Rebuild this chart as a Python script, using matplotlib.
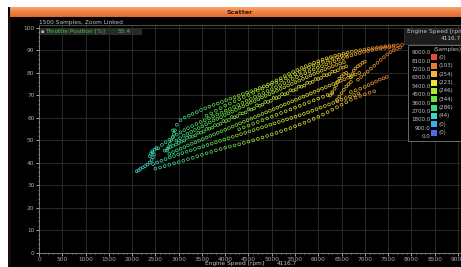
import numpy as np
import matplotlib
matplotlib.use("Agg")
import matplotlib.pyplot as plt
from matplotlib.colors import LinearSegmentedColormap
from matplotlib.patches import Rectangle
from matplotlib.ticker import MultipleLocator

W, H = 461, 267

# ---------------- data (engine speed [rpm], throttle position [%]) ----------------
hook = [(2100, 36.3), (2140, 36.8), (2180, 37.4), (2230, 38.0), (2280, 38.6), (2330, 39.3),
        (2380, 40.2), (2420, 41.3), (2450, 42.5), (2470, 43.8), (2440, 44.6), (2400, 44.0),
        (2380, 43.0), (2430, 45.2), (2480, 46.0), (2520, 46.6)]
spike = [(2750, 45.5), (2780, 47.0), (2810, 48.5), (2840, 50.0), (2870, 51.5), (2900, 53.0), (2920, 54.5)]
top_strand = [(2880, 54.5), (2960, 57.0), (3040, 59.0), (3130, 60.2), (3220, 61.0), (3300, 61.8),
              (3390, 62.6), (3480, 63.5), (3570, 64.3), (3660, 65.0), (3750, 65.8), (3840, 66.4),
              (3930, 67.1), (4020, 67.9), (4110, 68.6), (4200, 69.2), (4290, 69.9), (4380, 70.6),
              (4470, 71.2), (4560, 71.9), (4650, 72.6), (4740, 73.3), (4830, 74.0), (4920, 74.9),
              (5010, 75.8), (5100, 76.7), (5190, 77.6), (5280, 78.6), (5370, 79.5), (5460, 80.4),
              (5550, 81.3), (5640, 82.2), (5730, 83.0), (5820, 83.8), (5910, 84.5), (6000, 85.2),
              (6090, 85.9), (6180, 86.5), (6270, 87.0), (6360, 87.6), (6450, 88.1), (6540, 88.6),
              (6630, 89.0), (6720, 89.4), (6810, 89.8), (6900, 90.1), (6990, 90.4), (7080, 90.7),
              (7170, 91.0), (7260, 91.3), (7350, 91.5), (7440, 91.8), (7530, 92.0), (7620, 92.2),
              (7710, 92.3), (7800, 92.5)]
second_strand = [(2560, 46.5), (2640, 48.0), (2720, 49.2), (2800, 50.3), (2880, 51.5), (2960, 52.6),
                 (3040, 53.6), (3120, 54.6), (3200, 55.5), (3290, 56.4), (3380, 57.3), (3470, 58.2),
                 (3560, 59.0), (3650, 59.8), (3740, 60.7), (3830, 61.5), (3920, 62.3), (4010, 63.2),
                 (4100, 64.0), (4190, 64.9), (4280, 65.8), (4370, 66.7), (4460, 67.6), (4550, 68.4),
                 (4640, 69.3), (4730, 70.2), (4820, 71.1), (4910, 72.0), (5000, 72.8), (5090, 73.7),
                 (5180, 74.6), (5270, 75.5), (5360, 76.4), (5450, 77.3), (5540, 78.2), (5630, 79.0),
                 (5720, 79.9), (5810, 80.7), (5900, 81.5), (5990, 82.3), (6080, 83.0), (6170, 83.8),
                 (6260, 84.5), (6350, 85.2), (6440, 85.9), (6530, 86.6), (6620, 87.2), (6710, 87.8),
                 (6800, 88.4), (6890, 88.9), (6980, 89.4), (7070, 89.8), (7160, 90.2), (7250, 90.6),
                 (7340, 90.9), (7430, 91.2), (7520, 91.4), (7610, 91.6)]
mid_upper = [(3600, 61.0), (3700, 62.0), (3800, 63.2), (3900, 64.3), (4000, 65.5), (4100, 66.4),
             (4200, 67.4), (4300, 68.3), (4400, 69.3), (4500, 70.2), (4600, 71.2), (4700, 72.1),
             (4800, 73.1), (4900, 74.0), (5000, 74.8), (5100, 75.7), (5200, 76.6), (5300, 77.6),
             (5400, 78.5), (5500, 79.5), (5600, 80.5), (5700, 81.5), (5800, 82.4), (5900, 83.3),
             (6000, 84.1), (6100, 84.9), (6200, 85.6), (6300, 86.3), (6400, 87.0), (6500, 87.5),
             (6600, 88.0)]
band_upper = [(2950, 50.0), (3030, 51.0), (3110, 52.1), (3190, 53.0), (3270, 53.8), (3350, 54.7),
              (3430, 55.5), (3510, 56.3), (3590, 57.2), (3670, 58.0), (3750, 58.9), (3830, 59.6),
              (3910, 60.4), (3990, 61.3), (4070, 62.1), (4150, 62.8), (4230, 63.6), (4310, 64.5),
              (4390, 65.2), (4470, 66.0), (4550, 66.8), (4630, 67.5), (4710, 68.3), (4790, 69.1),
              (4870, 69.8), (4950, 70.6), (5030, 71.4), (5110, 72.1), (5190, 72.9), (5270, 73.6),
              (5350, 74.4), (5430, 75.1), (5510, 75.9), (5590, 76.6), (5670, 77.4), (5750, 78.1),
              (5830, 78.9), (5910, 79.6), (5990, 80.3), (6070, 81.0), (6150, 81.7), (6230, 82.3),
              (6310, 83.0), (6390, 83.6), (6470, 84.2), (6550, 84.8)]
band_center = [(2700, 45.5), (2760, 46.3), (2820, 47.0), (2880, 47.6), (2940, 48.2), (3000, 48.9),
               (3060, 49.5), (3120, 50.0), (3180, 51.2), (3240, 51.6), (3300, 51.8), (3360, 52.3),
               (3420, 53.4), (3480, 53.5), (3540, 54.0), (3600, 55.1), (3660, 55.2), (3720, 55.7),
               (3780, 56.8), (3840, 56.9), (3900, 57.4), (3960, 58.6), (4020, 58.6), (4080, 59.1),
               (4140, 60.4), (4200, 60.3), (4260, 60.8), (4320, 62.0), (4380, 62.0), (4440, 62.5),
               (4500, 63.9), (4560, 63.7), (4620, 64.2), (4680, 65.6), (4740, 65.4), (4800, 65.9),
               (4860, 67.1), (4920, 67.1), (4980, 67.6), (5040, 68.9), (5100, 68.8), (5160, 69.3),
               (5220, 70.6), (5280, 70.5), (5340, 71.0), (5400, 72.3), (5460, 72.2), (5520, 72.7),
               (5580, 73.9), (5640, 73.9), (5700, 74.4), (5760, 75.6), (5820, 75.6), (5880, 76.1),
               (5940, 77.3), (6000, 77.3), (6060, 77.8), (6120, 79.0), (6180, 79.0), (6240, 79.5),
               (6300, 80.6), (6360, 80.7), (6420, 81.2), (6480, 82.3), (6540, 82.4), (6600, 82.9)]
band_lower = [(2800, 44.0), (2880, 44.8), (2960, 45.6), (3040, 46.3), (3120, 47.0), (3200, 47.8),
              (3280, 48.5), (3360, 49.2), (3440, 49.9), (3520, 50.6), (3600, 51.3), (3680, 52.0),
              (3760, 52.7), (3840, 53.4), (3920, 54.1), (4000, 54.8), (4080, 55.5), (4160, 56.2),
              (4240, 56.9), (4320, 57.6), (4400, 58.3), (4480, 59.0), (4560, 59.7), (4640, 60.4),
              (4720, 61.1), (4800, 61.8), (4880, 62.5), (4960, 63.2), (5040, 63.9), (5120, 64.6),
              (5200, 65.3), (5280, 66.0), (5360, 66.7), (5440, 67.4), (5520, 68.1), (5600, 68.8),
              (5680, 69.5), (5760, 70.2), (5840, 70.9), (5920, 71.6), (6000, 72.3), (6080, 73.0),
              (6160, 73.7), (6240, 74.4), (6320, 75.1), (6400, 75.8), (6480, 76.5), (6560, 77.2),
              (6640, 77.9), (6720, 78.6), (6800, 79.3), (6880, 80.0)]
low_mid = [(4300, 55.0), (4400, 55.8), (4500, 56.6), (4600, 57.4), (4700, 58.2), (4800, 59.0),
           (4900, 59.8), (5000, 60.6), (5100, 61.4), (5200, 62.2), (5300, 63.0), (5400, 63.8),
           (5500, 64.6), (5600, 65.4), (5700, 66.2), (5800, 67.0), (5900, 67.8), (6000, 68.6),
           (6100, 69.4), (6200, 70.2), (6300, 71.0)]
lower_strand = [(2450, 39.5), (2540, 40.2), (2630, 41.0), (2720, 41.7), (2810, 42.4), (2900, 43.1),
                (2990, 43.8), (3080, 44.4), (3170, 45.0), (3260, 45.6), (3350, 46.2), (3440, 46.8),
                (3530, 47.4), (3620, 48.0), (3710, 48.6), (3800, 49.2), (3890, 49.8), (3980, 50.4),
                (4070, 51.0), (4160, 51.6), (4250, 52.2), (4340, 52.8), (4430, 53.4), (4520, 54.0),
                (4610, 54.6), (4700, 55.2), (4790, 55.8), (4880, 56.4), (4970, 57.0), (5060, 57.6),
                (5150, 58.2), (5240, 58.8), (5330, 59.4), (5420, 60.0), (5510, 60.6), (5600, 61.2),
                (5690, 61.8), (5780, 62.5), (5870, 63.2), (5960, 63.9), (6050, 64.6), (6140, 65.3),
                (6230, 66.0), (6320, 66.7), (6410, 67.4), (6500, 68.1), (6590, 68.8), (6680, 69.5),
                (6770, 70.2), (6860, 70.9)]
lowest_strand = [(2500, 37.5), (2600, 38.0), (2700, 38.6), (2800, 39.2), (2900, 39.8), (3000, 40.4),
                 (3100, 41.0), (3200, 41.7), (3300, 42.3), (3400, 43.0), (3500, 43.6), (3600, 44.3),
                 (3700, 44.9), (3800, 45.6), (3900, 46.2), (4000, 46.8), (4100, 47.3), (4200, 47.8),
                 (4300, 48.3), (4400, 48.9), (4500, 49.5), (4600, 50.1), (4700, 50.7), (4800, 51.3),
                 (4900, 52.0), (5000, 52.7), (5100, 53.4), (5200, 54.1), (5300, 54.8), (5400, 55.5),
                 (5500, 56.3), (5600, 57.1), (5700, 57.9), (5800, 58.7), (5900, 59.6), (6000, 60.5),
                 (6100, 61.5), (6200, 62.6), (6300, 63.7), (6400, 64.8), (6500, 65.9), (6600, 67.0),
                 (6700, 68.1), (6800, 69.0), (6900, 69.8), (7000, 70.5), (7100, 71.2), (7200, 71.8)]
yellow_blob = [(6250, 70.0), (6300, 71.5), (6350, 73.0), (6380, 74.5), (6420, 76.0), (6450, 77.5),
               (6500, 78.5), (6550, 79.5), (6600, 80.0), (6650, 79.0), (6700, 78.0), (6730, 79.5),
               (6760, 81.0), (6800, 82.0), (6850, 83.0), (6900, 83.5), (6950, 84.5), (7000, 85.0),
               (6400, 68.0), (6450, 69.5), (6500, 71.0), (6550, 72.5), (6600, 74.0), (6650, 75.0),
               (6700, 76.0)]
orange_rise = [(6850, 77.0), (6920, 78.2), (6990, 79.4), (7060, 80.6), (7130, 81.9), (7200, 83.2),
               (7270, 84.5), (7340, 85.8), (7410, 87.0), (7480, 88.2), (7550, 89.2), (7620, 90.0),
               (7690, 90.8), (7760, 91.3)]
orange_spur = [(6700, 71.5), (6800, 72.3), (6900, 73.0), (7000, 73.8), (7080, 74.6), (7160, 75.4),
               (7240, 76.2), (7320, 77.0), (7400, 77.6), (7470, 78.2)]

strands = [hook, spike, top_strand, second_strand, mid_upper, band_upper, band_center,
           band_lower, low_mid, lower_strand, lowest_strand, yellow_blob, orange_rise, orange_spur]

legend_labels = ["9000.0", "8100.0", "7200.0", "6300.0", "5400.0", "4500.0",
                 "3600.0", "2700.0", "1800.0", "900.0", "0.0"]
legend_counts = [0, 103, 254, 223, 246, 344, 286, 44, 0, 0]
legend_colors = ["#e8473a", "#f07a30", "#f4b830", "#ece632", "#b4e63a",
                 "#6ee040", "#3ede7a", "#3ad8c8", "#3caaf0", "#4a6cec"]

x_ticks = [0, 500, 1000, 1500, 2000, 2500, 3000, 3500, 4000, 4500,
           5000, 5500, 6000, 6500, 7000, 7500, 8000, 8500, 9000]
y_ticks = [0, 10, 20, 30, 40, 50, 60, 70, 80, 90, 100]

cursor_rpm = "4116.7"
cursor_throttle = "55.4"

# ---------------- figure ----------------
def fx(px):
    return px / W

def fy(py):
    return 1 - py / H

fig = plt.figure(figsize=(W / 100, H / 100), dpi=100, facecolor="white")

# panel background
fig.add_artist(Rectangle((fx(8), 0), 1 - fx(8), fy(7), transform=fig.transFigure,
                         facecolor="#000000", edgecolor="none", zorder=-5))
fig.add_artist(Rectangle((fx(8), 0), 3 / W, fy(17), transform=fig.transFigure,
                         facecolor="#1c0808", edgecolor="none", zorder=-4))

# title bar gradient
tax = fig.add_axes([fx(10), fy(17.5), 1 - fx(10), 10.5 / H])
grad = np.linspace(0, 1, 64).reshape(-1, 1)
tcmap = LinearSegmentedColormap.from_list("tb", ["#f9ae74", "#f08446", "#e2682e"])
tax.imshow(grad, aspect="auto", cmap=tcmap, extent=[0, 1, 0, 1])
tax.set_axis_off()
fig.text(fx(240), fy(12.3), "Scatter", ha="center", va="center", fontsize=4.6,
         fontweight="bold", color="#3a1806")

# main axes
ax = fig.add_axes([fx(39), fy(253), 1 - fx(39), (253 - 25) / H])
ax.set_facecolor("#000000")
ax.set_xlim(0, 9065)
ax.set_ylim(0, 101.3)

anchors = [0.0, 0.15, 0.25, 0.35, 0.45, 0.55, 0.65, 0.75, 0.85, 1.0]
cmap = LinearSegmentedColormap.from_list("spd", list(zip(anchors, legend_colors[::-1])))

for s in strands:
    arr = np.array(s, dtype=float)
    ax.scatter(arr[:, 0], arr[:, 1], s=4.0, facecolors="none",
               edgecolors=cmap(arr[:, 0] / 9000.0), linewidths=0.5, zorder=3)

ax.set_xticks(x_ticks)
ax.set_yticks(y_ticks)
ax.set_xticklabels([str(v) for v in x_ticks])
ax.set_yticklabels([str(v) for v in y_ticks])
ax.xaxis.set_minor_locator(MultipleLocator(100))
ax.yaxis.set_minor_locator(MultipleLocator(2))
ax.grid(True, which="major", color="#303030", linewidth=0.6)
ax.set_axisbelow(True)
ax.tick_params(which="major", direction="out", length=2, width=0.6, color="#bdbdbd",
               labelsize=4.2, labelcolor="#a8a8a8", pad=1.2)
ax.tick_params(which="minor", direction="out", length=1, width=0.5, color="#bdbdbd")
for side in ["left", "bottom"]:
    ax.spines[side].set_color("#8a8a8a")
    ax.spines[side].set_linewidth(0.6)
ax.spines["top"].set_color("#4a4a4a")
ax.spines["top"].set_linewidth(0.8)
ax.spines["right"].set_visible(False)

# header texts
fig.text(fx(39), fy(22.5), "1500 Samples, Zoom Linked", ha="left", va="center",
         fontsize=4.2, color="#c4c4c4")
fig.add_artist(Rectangle((fx(40), fy(34.5)), 102 / W, 7 / H, transform=fig.transFigure,
                         facecolor="#2a2a2a", edgecolor="none", zorder=5))
fig.text(fx(41), fy(31), "\u25aa", ha="left", va="center", fontsize=3.5, color="#9ae09a", zorder=6)
fig.text(fx(45), fy(31), "Throttle Position [%]", ha="left", va="center",
         fontsize=4.2, color="#3cbf3c", zorder=6)
fig.text(fx(118), fy(31), cursor_throttle, ha="left", va="center",
         fontsize=4.2, color="#3cbf3c", zorder=6)

# bottom axis title
fig.text(fx(205), fy(263.5), "Engine Speed [rpm]", ha="left", va="center",
         fontsize=4.2, color="#c4c4c4")
fig.text(fx(277), fy(263.5), cursor_rpm, ha="left", va="center",
         fontsize=4.2, color="#c4c4c4")

# legend (colour key)
fig.add_artist(Rectangle((fx(404), fy(43.5)), 60 / W, 16 / H, transform=fig.transFigure,
                         facecolor="#1c1c1c", edgecolor="#3a3a3a", linewidth=0.5, zorder=5))
fig.text(fx(407), fy(31.5), "Engine Speed [rpm]", ha="left", va="center",
         fontsize=4.2, color="#c4c4c4", zorder=6, clip_on=False)
fig.text(fx(461), fy(39), cursor_rpm, ha="right", va="center",
         fontsize=4.2, color="#c4c4c4", zorder=6)
fig.add_artist(Rectangle((fx(408), fy(140.5)), 58 / W, 95.5 / H, transform=fig.transFigure,
                         facecolor="#000000", edgecolor="#7a7a7a", linewidth=0.6, zorder=5))
fig.text(fx(433), fy(49), "(Samples)", ha="left", va="center",
         fontsize=4.0, color="#c4c4c4", zorder=6)
row0, dy = 52.8, 8.37
for i, lab in enumerate(legend_labels):
    yy = row0 + i * dy
    fig.text(fx(430.5), fy(yy), lab, ha="right", va="center", fontsize=4.0,
             color="#c4c4c4", zorder=6)
for i, (c, n) in enumerate(zip(legend_colors, legend_counts)):
    yc = row0 + (i + 0.55) * dy
    fig.add_artist(Rectangle((fx(430.8), fy(yc + 3.0)), 6.5 / W, 6.0 / H,
                             transform=fig.transFigure, facecolor=c,
                             edgecolor="none", zorder=6))
    fig.text(fx(438.3), fy(yc), "(%d)" % n, ha="left", va="center", fontsize=4.0,
             color="#c4c4c4", zorder=6)

fig.savefig("out.png", dpi=100, facecolor=fig.get_facecolor())
